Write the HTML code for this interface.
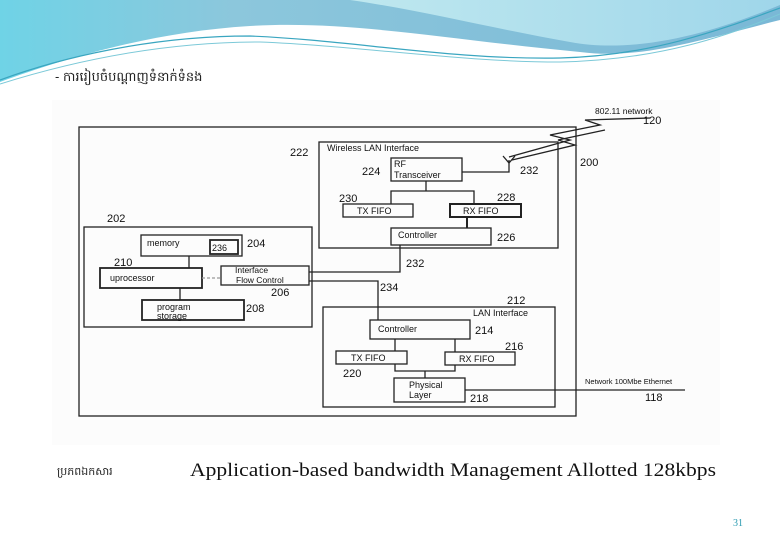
<!DOCTYPE html>
<html><head><meta charset="utf-8"><style>
body{margin:0;width:780px;height:540px;overflow:hidden;background:#fff;position:relative;font-family:"Liberation Sans",sans-serif}
svg{position:absolute;left:0;top:0}
</style></head><body>
<svg width="780" height="540" viewBox="0 0 780 540">
<defs>
<linearGradient id="g1" x1="0" y1="0" x2="1" y2="0"><stop offset="0" stop-color="#6fd3e6"/><stop offset="0.3" stop-color="#8cc7dc"/><stop offset="1" stop-color="#7ab8d6"/></linearGradient>
<linearGradient id="g2" x1="0" y1="0" x2="1" y2="0"><stop offset="0" stop-color="#bfe8ef"/><stop offset="1" stop-color="#9fd6ea"/></linearGradient>
</defs>
<path d="M0 0 H780 V20 C700 40 640 60 580 52 C450 40 350 20 250 26 C150 32 60 60 0 82 Z" fill="url(#g1)"/>
<path d="M350 0 H780 V5 C720 30 640 55 570 42 C500 30 420 10 350 0 Z" fill="url(#g2)"/>
<path d="M0 80 C60 58 150 36 250 36 C350 40 450 60 560 58 C650 56 720 30 780 8" fill="none" stroke="#3aa6c0" stroke-width="1.2"/>
<path d="M0 84 C70 62 160 42 260 42 C360 46 460 62 560 62 C660 60 730 35 780 14" fill="none" stroke="#7cc9d8" stroke-width="1"/>
<rect x="52" y="100" width="668" height="345" fill="#fcfcfc"/>
<g fill="none" stroke="#222" stroke-width="1.3">
<rect x="79" y="127" width="497" height="289"/>
<rect x="319" y="142" width="239" height="106"/>
<rect x="391" y="158" width="71" height="23"/>
<polyline points="462,172 509,172 509,160"/>
<path d="M503 156 L509 163 L515 156"/>
<path d="M509 157 L570 140 L550 135 L600 125 L585 120 L650 118"/>
<path d="M512 160 L575 145 L558 140 L605 130"/>
<polyline points="426,181 426,191"/><polyline points="391,204 391,191 474,191 474,204"/>
<rect x="343" y="204" width="70" height="13"/>
<rect x="450" y="204" width="71" height="13" stroke-width="2"/>
<line x1="467" y1="217" x2="467" y2="228" stroke-width="2"/>
<rect x="391" y="228" width="100" height="17"/>
<rect x="84" y="227" width="228" height="100"/>
<rect x="141" y="235" width="101" height="21"/>
<rect x="210" y="240" width="28" height="14" stroke-width="1.8"/>
<line x1="189" y1="256" x2="189" y2="268"/>
<rect x="100" y="268" width="102" height="20" stroke-width="1.8"/>
<line x1="202" y1="278" x2="221" y2="278" stroke="#999" stroke-dasharray="3 2"/>
<rect x="221" y="266" width="88" height="19"/>
<line x1="180" y1="288" x2="180" y2="300"/>
<rect x="142" y="300" width="102" height="20" stroke-width="1.8"/>
<polyline points="309,272 400,272 400,245"/>
<polyline points="309,281 378,281 378,320"/>
<rect x="323" y="307" width="232" height="100"/>
<rect x="370" y="320" width="100" height="19"/>
<line x1="395" y1="339" x2="395" y2="351"/><line x1="455" y1="339" x2="455" y2="352"/>
<rect x="336" y="351" width="71" height="13"/>
<rect x="445" y="352" width="70" height="13"/>
<polyline points="395,364 395,371 455,371 455,365"/>
<line x1="425" y1="371" x2="425" y2="378"/>
<rect x="394" y="378" width="71" height="24"/>
<line x1="465" y1="390" x2="685" y2="390"/>
</g>
<g font-family="Liberation Sans, sans-serif" font-size="9" fill="#111">
<text x="327" y="151">Wireless LAN Interface</text>
<text x="394" y="167">RF</text><text x="394" y="178">Transceiver</text>
<text x="357" y="214">TX FIFO</text><text x="463" y="214">RX FIFO</text>
<text x="398" y="238">Controller</text>
<text x="147" y="246">memory</text><text x="212" y="251">236</text>
<text x="110" y="281">uprocessor</text>
<text x="235" y="273" font-size="8.5">Interface</text><text x="236" y="283" font-size="8.5">Flow Control</text>
<text x="157" y="310">program</text><text x="157" y="319">storage</text>
<text x="473" y="316">LAN Interface</text>
<text x="378" y="332">Controller</text>
<text x="351" y="361">TX FIFO</text><text x="459" y="362">RX FIFO</text>
<text x="409" y="388">Physical</text><text x="409" y="398">Layer</text>
<text x="595" y="114" font-size="8.5">802.11 network</text>
<text x="585" y="384" font-size="7.5">Network 100Mbe Ethernet</text>
</g>
<g font-family="Liberation Sans, sans-serif" font-size="11" fill="#111">
<text x="290" y="156">222</text><text x="362" y="175">224</text><text x="520" y="174">232</text>
<text x="580" y="166">200</text><text x="643" y="124">120</text>
<text x="339" y="202">230</text><text x="497" y="201">228</text><text x="497" y="241">226</text>
<text x="107" y="222">202</text><text x="247" y="247">204</text><text x="114" y="266">210</text>
<text x="271" y="296">206</text><text x="246" y="312">208</text>
<text x="406" y="267">232</text><text x="380" y="291">234</text><text x="507" y="304">212</text>
<text x="475" y="334">214</text><text x="505" y="350">216</text><text x="343" y="377">220</text>
<text x="470" y="402">218</text><text x="645" y="401">118</text>
</g>
<text x="55" y="81" font-size="13" fill="#222" font-family="Liberation Sans, 'Noto Sans CJK SC', sans-serif">- ការរៀបចំបណ្តាញទំនាក់ទំនង</text>
<text x="57" y="475" font-size="11" fill="#222" font-family="Liberation Sans, sans-serif">ប្រភពឯកសារ</text>
<text x="190" y="476" font-size="19" fill="#111" font-family="Liberation Serif, serif" textLength="526" lengthAdjust="spacingAndGlyphs">Application-based bandwidth Management Allotted 128kbps</text>
<text x="733" y="526" font-size="10" fill="#2a9ab0" font-family="Liberation Serif, serif">31</text>
</svg>
</body></html>
